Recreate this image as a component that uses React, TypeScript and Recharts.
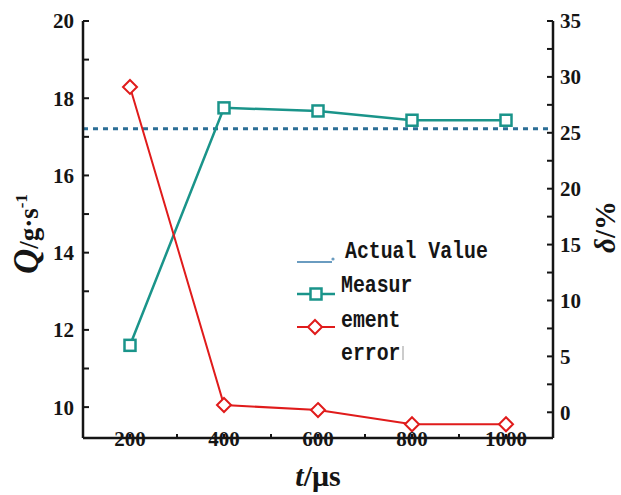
import { Line, LineChart, ReferenceLine, XAxis, YAxis } from "recharts";

const TIMES = [200, 400, 600, 800, 1000];
const MEASURED_Q = [11.6, 17.75, 17.67, 17.43, 17.43];
const ERROR_PCT = [29.1, 0.65, 0.2, -1.07, -1.07];
const ACTUAL_Q = 17.21;

const X_TICKS = [200, 300, 400, 500, 600, 700, 800, 900, 1000];
const X_TOP_TICKS = [200, 400, 600, 800, 1000];
const Q_TICKS = [10, 11, 12, 13, 14, 15, 16, 17, 18, 19, 20];
const DELTA_TICKS = [0, 2.5, 5, 7.5, 10, 12.5, 15, 17.5, 20, 22.5, 25, 27.5, 30, 32.5, 35];
const LEGEND_LINES = ["Actual Value", "Measur", "ement", "error"];

const TEAL = "#1a948a";
const RED = "#e01b1b";
const DASH_BLUE = "#2b6e96";
const LEGEND_BLUE = "#6a9cc0";
const INK = "#151515";

const data = TIMES.map((t, i) => ({ t, q: MEASURED_Q[i], delta: ERROR_PCT[i] }));

const tickFont = {
  fontFamily: "'Liberation Serif', 'Times New Roman', serif",
  fontWeight: 700,
  fontSize: 21,
  fill: INK,
};

function SquareDot({ cx, cy }: { cx?: number; cy?: number }) {
  if (cx == null || cy == null) return null;
  return (
    <rect x={cx - 5.5} y={cy - 5.5} width={11} height={11} fill="#fff" stroke={TEAL} strokeWidth={2.5} />
  );
}

function DiamondDot({ cx, cy }: { cx?: number; cy?: number }) {
  if (cx == null || cy == null) return null;
  const r = 7;
  return (
    <polygon
      points={`${cx},${cy - r} ${cx + r},${cy} ${cx},${cy + r} ${cx - r},${cy}`}
      fill="#fff"
      stroke={RED}
      strokeWidth={2}
    />
  );
}

// legend drawn as an overlay so it doesn't eat into the plot area
function LegendBox() {
  const monoText = (text: string, y: number, x: number) => (
    <text
      key={text}
      x={x}
      y={y}
      fontFamily="'Liberation Mono', 'DejaVu Sans Mono', monospace"
      fontWeight={700}
      fontSize={24}
      fill={INK}
      textLength={text.length * 11.9}
      lengthAdjust="spacingAndGlyphs"
    >
      {text}
    </text>
  );

  return (
    <svg
      width={210}
      height={135}
      style={{ position: "absolute", left: 297, top: 236, overflow: "visible", pointerEvents: "none" }}
    >
      <line x1={0} y1={26} x2={35} y2={26} stroke={LEGEND_BLUE} strokeWidth={2} />
      <circle cx={36} cy={23} r={1.6} fill={LEGEND_BLUE} />
      {monoText(LEGEND_LINES[0], 22, 48)}

      <line x1={0} y1={58} x2={38} y2={58} stroke={TEAL} strokeWidth={2.5} />
      <SquareDot cx={19} cy={58} />
      {monoText(LEGEND_LINES[1], 56, 44)}

      <line x1={0} y1={91} x2={38} y2={91} stroke={RED} strokeWidth={2} />
      <DiamondDot cx={18} cy={91} />
      {monoText(LEGEND_LINES[2], 91, 44)}

      {monoText(LEGEND_LINES[3], 124, 44)}
      <line x1={106} y1={110} x2={106} y2={124} stroke="#999" strokeWidth={1} />
    </svg>
  );
}

export default function App() {
  return (
    <div style={{ position: "absolute", left: 0, top: 0, width: 621, height: 495, background: "#fff" }}>
      <LineChart width={621} height={495} data={data} margin={{ top: 21, right: 0, bottom: 0, left: 0 }}>
        <XAxis
          xAxisId="b"
          dataKey="t"
          type="number"
          domain={[100, 1100]}
          ticks={X_TICKS}
          tickFormatter={(v: number) => (v % 200 === 0 ? String(v) : "")}
          height={57}
          tickSize={-4}
          tickMargin={-3}
          tick={tickFont}
          axisLine={{ stroke: INK, strokeWidth: 2.5 }}
          tickLine={{ stroke: INK, strokeWidth: 2 }}
        />
        <XAxis
          xAxisId="top"
          orientation="top"
          dataKey="t"
          type="number"
          domain={[100, 1100]}
          ticks={X_TOP_TICKS}
          tickFormatter={() => ""}
          height={0}
          tickSize={-7}
          axisLine={{ stroke: INK, strokeWidth: 2.5 }}
          tickLine={{ stroke: INK, strokeWidth: 2 }}
        />
        <YAxis
          yAxisId="q"
          orientation="left"
          type="number"
          domain={[9.2, 20]}
          allowDataOverflow
          ticks={Q_TICKS}
          tickFormatter={(v: number) => (v % 2 === 0 ? String(v) : "")}
          width={83}
          tickSize={-6}
          tickMargin={15}
          tick={tickFont}
          axisLine={{ stroke: INK, strokeWidth: 2.5 }}
          tickLine={{ stroke: INK, strokeWidth: 2 }}
        />
        <YAxis
          yAxisId="d"
          orientation="right"
          type="number"
          domain={[-2.3, 35]}
          allowDataOverflow
          ticks={DELTA_TICKS}
          tickFormatter={(v: number) => (v % 5 === 0 ? String(v) : "")}
          width={68}
          tickSize={-6}
          tickMargin={13}
          tick={tickFont}
          axisLine={{ stroke: INK, strokeWidth: 2.5 }}
          tickLine={{ stroke: INK, strokeWidth: 2 }}
        />
        <ReferenceLine
          xAxisId="b"
          yAxisId="q"
          y={ACTUAL_Q}
          stroke={DASH_BLUE}
          strokeWidth={3}
          strokeDasharray="5 5"
        />
        <Line
          xAxisId="b"
          yAxisId="q"
          dataKey="q"
          name="Measured value"
          stroke={TEAL}
          strokeWidth={2.5}
          dot={<SquareDot />}
          activeDot={false}
          isAnimationActive={false}
        />
        <Line
          xAxisId="b"
          yAxisId="d"
          dataKey="delta"
          name="Measurement error"
          stroke={RED}
          strokeWidth={2}
          dot={<DiamondDot />}
          activeDot={false}
          isAnimationActive={false}
        />
      </LineChart>

      <LegendBox />

      <svg
        width={621}
        height={495}
        style={{ position: "absolute", left: 0, top: 0, pointerEvents: "none" }}
        fontFamily="'Liberation Serif', 'Times New Roman', serif"
        fontWeight={700}
        fill={INK}
      >
        <text x={38} y={234} textAnchor="middle" transform="rotate(-90 38 234)">
          <tspan fontStyle="italic" fontSize={35}>Q</tspan>
          <tspan fontSize={27}>/g·s</tspan>
          <tspan fontSize={17} dy={-11}>-1</tspan>
        </text>
        <text x={318} y={486} textAnchor="middle" fontSize={30}>
          <tspan fontStyle="italic">t</tspan>
          <tspan>/μs</tspan>
        </text>
        <text x={615} y={227} textAnchor="middle" fontSize={29} transform="rotate(-90 615 227)">
          <tspan fontStyle="italic">δ</tspan>
          <tspan>/%</tspan>
        </text>
      </svg>
    </div>
  );
}
